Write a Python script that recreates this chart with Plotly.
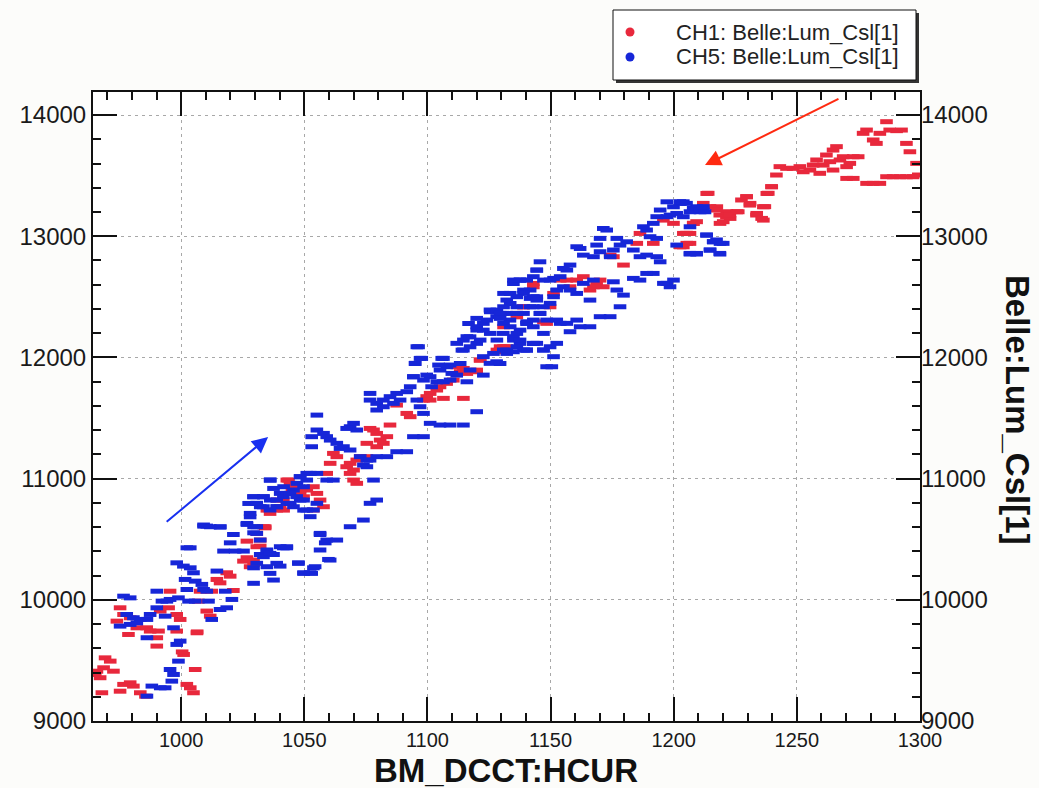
import plotly.graph_objects as go

# ---------------- data ----------------
ch1_x = [965.1, 967.1, 965.8, 968.5, 969.1, 971.2, 972.5, 967.8, 976.6, 979.3, 980.6, 975.2, 983.4, 985.5,
         1002.3, 1003.7, 1005.0, 1005.7, 1001.0, 973.9, 975.2, 976.6, 979.3, 982.0, 986.0, 987.4, 990.1, 990.8,
         978.6, 990.1, 995.5, 994.9, 991.5, 998.2, 999.6, 998.2, 1006.4, 1014.5, 1015.8, 1018.5, 1019.9, 1021.2,
         1012.4, 1010.4, 1011.8, 1007.0, 1007.7, 1025.3, 1026.7, 1029.4, 1032.1, 1034.1, 1026.7, 1000.4, 1006.5,
         1043.6, 1045.0, 1038.9, 1034.8, 1041.6, 1034.1, 1049.7,
         1128.8, 1132.2, 1121.4, 1111.9, 1113.3, 1116.0, 1120.0, 1110.5, 1107.8, 1105.1, 1103.8, 1101.1, 1099.7,
         1101.1, 1098.4, 1106.5, 1114.6, 1091.6, 1093.0, 1087.5, 1084.8, 1076.7, 1078.1, 1079.4, 1080.8, 1083.5,
         1082.1, 1075.4, 1079.4, 1075.4, 1072.7, 1071.3, 1068.6, 1067.2, 1070.0, 1068.6, 1070.0, 1071.3, 1061.8,
         1060.5, 1063.2, 1059.1, 1042.9, 1044.2, 1045.6, 1048.3, 1051.0, 1053.7, 1055.1, 1056.4, 1057.8, 1053.7,
         1048.3, 1041.5, 1040.2, 1038.8, 1036.1, 1033.4, 1030.7, 1032.1, 1030.7, 1029.4, 1028.0,
         1114.6, 1120.0, 1121.4, 1128.2, 1129.5, 1130.9, 1136.3, 1139.0, 1143.0,
         1213.4, 1217.5, 1221.5, 1225.6, 1222.9, 1218.8, 1229.6, 1231.0, 1237.8, 1239.8, 1236.4, 1233.7, 1236.4,
         1195.8, 1199.9, 1208.0, 1203.9, 1206.6, 1205.3, 1202.6, 1191.7, 1186.3, 1185.0, 1179.6, 1175.5, 1174.2,
         1170.1, 1168.7, 1167.4, 1166.0, 1171.4, 1163.3, 1160.6, 1157.9, 1156.6, 1153.9, 1151.2, 1149.8, 1148.4,
         1147.1, 1143.0, 1139.0, 1136.3, 1129.5, 1130.9,
         1214.0, 1212.0, 1214.7, 1217.4, 1218.7, 1221.4, 1222.8, 1226.2, 1220.1, 1227.5, 1229.6, 1230.9, 1233.6,
         1235.7, 1237.0, 1238.4, 1239.7, 1241.7, 1243.1, 1245.8, 1248.5, 1251.2, 1252.6, 1255.3, 1256.6, 1258.0,
         1259.3, 1260.7, 1262.0, 1263.4, 1264.7, 1266.1, 1264.7, 1267.5, 1268.8, 1270.2, 1271.5, 1272.9, 1274.9,
         1270.2, 1272.9, 1278.3, 1281.0, 1283.7, 1286.4, 1289.1, 1291.8, 1294.5, 1297.2, 1299.3, 1298.6, 1295.9,
         1294.5, 1292.5, 1290.5, 1287.7, 1286.4, 1283.7, 1281.0, 1282.3, 1278.3, 1276.9, 1205.2, 1206.6, 1207.9,
         1209.3, 1203.9]
ch1_y = [9384, 9357, 9411, 9439, 9521, 9494, 9411, 9233, 9302, 9315, 9288, 9246, 9233, 9205,
         9302, 9274, 9233, 9425, 9549, 9824, 9934, 9879, 9852, 9769, 9769, 9742, 9687, 9742,
         9714, 9618, 10071, 9934, 9907, 9879, 9838, 9742, 9728, 10168, 10140, 10223, 10195, 10077,
         10071, 9907, 9865, 9989, 10071, 10319, 10347, 10292, 10443, 10594, 10484, 9570, 9735,
         10988, 10906, 10823, 10740, 10740, 10603, 10850,
         12047, 12088, 11978, 11923, 11882, 11868, 11882, 11813, 11786, 11758, 11731, 11703, 11676,
         11648, 11648, 11662, 11662, 11538, 11511, 11607, 11442, 11414, 11401, 11373, 11318, 11346,
         11291, 11291, 11263, 11181, 11181, 11153, 11126, 11098, 11071, 11043, 10988, 10961, 11208,
         11126, 11181, 11043, 10988, 10961, 10933, 10906, 10906, 10933, 10878, 10823, 10768, 10741,
         10878, 10823, 10768, 10741, 10713, 10603, 10548, 10493, 10438, 10328, 10273,
         11909, 11895, 11978, 12060, 12088, 12253, 12335, 12418, 12610,
         13353, 13243, 13202, 13202, 13147, 13106, 13326, 13271, 13353, 13408, 13243, 13188, 13133,
         13133, 13106, 13106, 13023, 13023, 12941, 12913, 12941, 13023, 12941, 12762, 12831, 12844,
         12638, 12611, 12583, 12556, 12583, 12666, 12638, 12583, 12638, 12638, 12528, 12418, 12281,
         12294, 12583, 12418, 12363, 12061, 12088,
         13354, 13271, 13244, 13216, 13175, 13161, 13175, 13202, 13120, 13299, 13326, 13257, 13175,
         13147, 13244, 13354, 13409, 13505, 13574, 13560, 13560, 13574, 13532, 13546, 13587, 13629,
         13519, 13587, 13670, 13615, 13711, 13739, 13546, 13629, 13656, 13574, 13601, 13656, 13656,
         13477, 13477, 13436, 13436, 13436, 13491, 13491, 13491, 13491, 13491, 13505, 13601, 13697,
         13766, 13876, 13871, 13876, 13945, 13849, 13794, 13766, 13876, 13849, 13024, 12941, 13106,
         13120, 12913]

ch5_x = [976.6, 979.3, 977.9, 980.6, 983.4, 986.1, 987.4, 990.1, 992.2, 994.2, 995.5, 998.9, 975.2, 979.3,
         982.0, 986.1, 990.1, 993.5, 996.9, 998.2, 999.6, 998.9, 995.5, 996.9, 996.2, 993.5, 991.5, 988.1,
         986.1, 1002.3, 1003.7, 998.2, 1000.9, 1003.7, 1005.0, 1001.6, 1002.3, 1005.7, 1008.4, 1009.1, 1010.4,
         1003.0, 1005.7, 1011.1, 1012.4, 1014.5, 1017.9, 1015.8, 1018.5, 1020.6, 1009.1, 1010.4, 1015.8, 1026.7,
         1029.4, 1021.2, 1019.9, 1017.2, 1021.9, 1025.3, 1029.4, 1032.1, 1034.8, 1037.5, 1040.2, 1041.5, 1042.9,
         1047.6, 1049.7, 1052.4, 1053.7, 1056.4, 1058.5, 1059.8,
         1036.2, 1037.5, 1033.4, 1029.4, 1027.4, 1032.1, 1036.2, 1040.2, 1041.6, 1042.9, 1045.6, 1047.0, 1048.3,
         1051.0, 1049.7, 1048.3, 1044.3, 1038.9, 1049.7, 1028.0, 1009.1, 1011.8, 1015.9, 1026.7, 1030.7,
         1125.4, 1128.1, 1130.8, 1133.5, 1136.3, 1139.0, 1143.0, 1145.7, 1140.3, 1122.7, 1120.0, 1116.0, 1111.9,
         1114.6, 1120.0, 1130.8, 1134.9, 1137.6, 1140.3, 1144.4, 1147.1, 1130.8, 1128.1, 1125.4, 1122.7, 1132.2,
         1147.1, 1148.4,
         1095.7, 1097.0, 1095.0, 1106.5, 1109.2, 1105.1, 1101.1, 1098.4, 1094.3, 1093.0, 1091.6, 1087.5, 1084.8,
         1082.1, 1079.4, 1076.7, 1076.7, 1079.4, 1082.1, 1086.2, 1088.9, 1095.7, 1097.0, 1098.4, 1101.1, 1105.1,
         1109.2, 1114.6, 1120.0, 1094.3, 1098.4, 1101.7, 1103.8, 1106.5, 1109.2, 1111.9, 1117.3, 1122.7, 1116.0,
         1055.1, 1055.1, 1057.8, 1059.1, 1060.5, 1063.2, 1065.9, 1068.6, 1070.0, 1071.3, 1067.2, 1053.0, 1053.0,
         1064.5, 1068.6, 1072.7, 1075.4, 1079.4, 1083.5, 1087.5, 1091.6, 1074.0, 1075.4, 1076.7,
         1055.1, 1052.4, 1051.0, 1048.3, 1059.1, 1061.8, 1036.1, 1078.1, 1076.7, 1079.4, 1074.0, 1068.6, 1056.4,
         1059.1, 1063.2, 1056.4, 1060.5, 1054.4, 1053.0, 1049.7, 1047.6, 1029.4, 1033.4, 1038.8, 1041.5, 1044.2,
         1046.9, 1049.7, 1053.7, 1052.4, 1045.6, 1042.9, 1038.8, 1036.1, 1033.4, 1030.7, 1028.0, 1029.4, 1030.7,
         1032.1, 1034.8, 1033.4, 1036.1, 1040.2, 1042.9, 1038.8, 1034.8, 1030.7, 1036.1, 1037.5, 1029.4, 1051.0,
         1055.1,
         1096.4, 1097.7, 1095.0, 1094.3, 1099.7, 1105.8, 1104.5, 1107.9, 1109.9, 1113.3, 1114.0, 1114.6, 1117.3,
         1120.0, 1120.0, 1124.1, 1125.5, 1128.2, 1129.5, 1132.2, 1133.6, 1130.9, 1134.9, 1137.6, 1139.0, 1141.7,
         1144.4, 1144.4, 1143.0, 1140.3, 1137.6, 1134.9, 1136.3, 1140.3, 1143.0, 1132.2, 1128.2, 1125.5, 1122.7,
         1121.4, 1117.3, 1126.8, 1129.5, 1116.7,
         1197.2, 1199.9, 1202.6, 1203.9, 1209.3, 1210.7, 1206.6, 1212.0, 1194.5, 1193.1, 1191.7, 1189.0, 1187.7,
         1190.4, 1193.1, 1197.2, 1198.5, 1201.2, 1213.4, 1216.1, 1218.8, 1214.8, 1218.8, 1206.6, 1209.3, 1201.2,
         1199.9, 1197.2, 1198.5, 1195.8,
         1171.4, 1172.8, 1170.1, 1168.7, 1176.9, 1180.9, 1183.6, 1186.3, 1189.0, 1193.1, 1194.5, 1191.7, 1189.0,
         1183.6, 1186.3, 1178.2, 1175.5, 1174.2, 1170.1, 1167.4, 1163.3, 1162.0, 1160.6, 1157.9, 1156.6, 1155.2,
         1153.9, 1151.2, 1149.8, 1147.1, 1145.7, 1144.4, 1143.0, 1140.3, 1137.6, 1134.9, 1133.6, 1132.2, 1130.9,
         1129.5, 1130.9, 1133.6, 1136.3, 1137.6, 1139.0, 1134.9, 1143.0, 1147.1, 1149.8, 1151.2, 1152.5, 1150.5,
         1153.9, 1156.6, 1157.9, 1160.6, 1162.0, 1166.0, 1166.0, 1170.1, 1174.2, 1178.2, 1179.6, 1176.9, 1175.5,
         1167.4, 1163.3, 1160.6, 1157.9, 1155.2, 1152.5, 1151.2, 1149.8, 1147.1, 1143.0, 1141.7, 1139.0, 1136.3,
         1136.3, 1140.3, 1143.0, 1145.7, 1148.4, 1152.5, 1141.7, 1144.4,
         1202.5, 1205.2, 1207.9, 1210.6, 1212.0, 1212.7, 1213.3, 1216.0, 1217.4, 1220.1, 1214.7, 1218.7, 1206.6,
         1209.3, 1203.9, 1206.6]
ch5_y = [10030, 10016, 9879, 9852, 9838, 9838, 9879, 9934, 9989, 9989, 10003, 10016, 9783, 9797,
         9810, 9687, 10071, 9865, 9769, 9632, 9659, 9494, 9425, 9384, 9329, 9274, 9274, 9288,
         9205, 10429, 10429, 10305, 10278, 10264, 10223, 10168, 10085, 10154, 10127, 10085, 10071,
         9989, 9989, 9989, 9838, 10237, 10071, 9920, 9934, 10003, 10608, 10608, 10600, 10622,
         10553, 10539, 10470, 10402, 10402, 10402, 10264, 10374, 10402, 10374, 10278, 10429, 10429,
         10305, 10223, 10223, 10264, 10539, 10470, 10333,
         10988, 10919, 10850, 10850, 10795, 10768, 10823, 10878, 10933, 10878, 10906, 10961, 11015,
         11043, 10933, 10823, 10795, 10768, 10740, 10685, 10617, 10603, 10603, 10630, 10603,
         12391, 12336, 12363, 12308, 12418, 12363, 12253, 12363, 12281, 12281, 12226, 12171, 12116,
         12061, 12116, 12198, 12171, 12116, 12061, 12116, 12198, 12061, 11964, 11951, 12006, 12033,
         12061, 11923,
         12088, 11992, 11951, 11992, 11937, 11896, 11841, 11813, 11841, 11758, 11717, 11703, 11676,
         11648, 11621, 11703, 11648, 11566, 11593, 11621, 11648, 11648, 11593, 11538, 11456, 11442,
         11442, 11442, 11552, 11346, 11346, 11758, 11799, 11799, 11813, 11854, 11896, 11854, 11799,
         11524, 11401, 11373, 11346, 11318, 11291, 11263, 11428, 11456, 11401, 11414, 11346, 11263,
         11249, 11236, 11181, 11153, 11181, 11181, 11222, 11222, 11112, 11098, 11153,
         11043, 11043, 10988, 11016, 10988, 10988, 10988, 10988, 10796, 10823, 10658, 10603, 10548,
         10493, 10493, 10411, 10328, 10273, 10218, 10218, 10301, 10851, 10851, 10823, 10851, 10878,
         10851, 10823, 10741, 10686, 10768, 10796, 10768, 10741, 10768, 10796, 10713, 10603, 10548,
         10493, 10411, 10356, 10383, 10438, 10438, 10301, 10273, 10301, 10218, 10163, 10136, 10741,
         10796,
         12088, 11992, 11950, 11840, 11854, 11992, 11937, 11923, 11868, 11950, 12060, 12143, 12170,
         12253, 12322, 12308, 12377, 12390, 12322, 12363, 12445, 12528, 12610, 12638, 12555, 12487,
         12500, 12720, 12418, 12294, 12225, 12143, 12088, 12060, 12115, 12060, 12143, 12198, 12225,
         12143, 12088, 12033, 11950, 12280,
         13284, 13243, 13271, 13284, 13243, 13202, 13202, 13216, 13216, 13161, 13106, 13051, 13078,
         12996, 12982, 13161, 13174, 13188, 13009, 12954, 12941, 12886, 12853, 12853, 12853, 12927,
         12638, 12611, 12583, 12611,
         13064, 13051, 12982, 12927, 12982, 12954, 12886, 12831, 12844, 12831, 12789, 12693, 12693,
         12652, 12638, 12927, 12886, 12831, 12872, 12831, 12844, 12899, 12913, 12762, 12721, 12734,
         12666, 12652, 12638, 12638, 12789, 12721, 12666, 12638, 12638, 12638, 12528, 12473, 12418,
         12363, 12281, 12253, 12198, 12143, 12061, 12047, 12116, 12061, 12088, 12006, 12116, 11923,
         12281, 12281, 12212, 12308, 12253, 12253, 12473, 12336, 12336, 12418, 12514, 12556, 12624,
         12638, 12611, 12528, 12556, 12583, 12556, 12501, 12446, 12418, 12501, 12556, 12528, 12501,
         12363, 12281, 12308, 12363, 12308, 12308, 12418, 12473,
         13285, 13271, 13230, 13216, 13244, 13202, 13010, 12955, 12969, 12941, 12886, 12858, 12858,
         12858, 13161, 13078]

series_names = ["CH1: Belle:Lum_Csl[1]", "CH5: Belle:Lum_Csl[1]"]
series_colors = ["#e8283c", "#1626d8"]

x_title = "BM_DCCT:HCUR"
y_title = "Belle:Lum_Csl[1]"
x_range = [964.2, 1300]
y_range = [9000, 14190]

# hand-drawn arrows on the picture: (head_x, head_y, tail_x, tail_y, colour)
arrows = [
    (1035.3, 11343, 993.5, 10633, "#1830f0"),
    (1212.7, 13587, 1267.5, 14140, "#ff2a10"),
]

# ---------------- layout helpers (pixel geometry) ----------------
W, H = 1039, 788
ML, MR, MT, MB = 93, 119, 92, 67
PW, PH = W - ML - MR, H - MT - MB


def px(x):
    return (x - ML) / PW


def py(y):
    return (H - MB - y) / PH


# ---------------- figure ----------------
fig = go.Figure()

for xs, ys, col, name in [(ch1_x, ch1_y, series_colors[0], series_names[0]),
                          (ch5_x, ch5_y, series_colors[1], series_names[1])]:
    fig.add_trace(go.Scatter(
        x=xs, y=ys, mode="markers", name=name, showlegend=False, hoverinfo="skip",
        marker=dict(symbol="line-ew", size=9, color=col,
                    line=dict(color=col, width=5)),
    ))

# invisible traces so the extra (right-hand / minor-tick) axes are drawn
fig.add_trace(go.Scatter(x=[x_range[0]], y=[y_range[0]], yaxis="y2", mode="markers",
                         marker=dict(opacity=0), showlegend=False, hoverinfo="skip"))
fig.add_trace(go.Scatter(x=[x_range[0]], y=[y_range[0]], xaxis="x2", yaxis="y3", mode="markers",
                         marker=dict(opacity=0), showlegend=False, hoverinfo="skip"))

grid_style = dict(showgrid=True, gridcolor="#a8a8a8", gridwidth=1, griddash="3px,4px")
major = dict(ticks="inside", ticklen=24, tickwidth=2, tickcolor="#111", zeroline=False)
minor_t = dict(ticks="inside", ticklen=8, tickwidth=2, tickcolor="#111", zeroline=False,
               showgrid=False, showticklabels=False, showline=False, mirror="ticks")

fig.update_layout(
    width=W, height=H,
    margin=dict(l=ML, r=MR, t=MT, b=MB),
    paper_bgcolor="#fcfcfa",
    plot_bgcolor="#ffffff",
    font=dict(family="Liberation Sans, Arial, sans-serif", color="#1a1a1a"),
    showlegend=False,
    xaxis=dict(
        range=x_range, tick0=1000, dtick=50, tickformat="d",
        showline=True, linecolor="#111", linewidth=2, mirror="ticks",
        tickfont=dict(size=20),
        **major, **grid_style,
    ),
    xaxis2=dict(range=x_range, overlaying="x", side="bottom", anchor="y3",
                tick0=1000, dtick=10, **minor_t),
    yaxis=dict(
        range=y_range, tick0=9000, dtick=1000, tickformat="d",
        showline=True, linecolor="#111", linewidth=2, mirror="ticks",
        tickfont=dict(size=24),
        **major, **grid_style,
    ),
    yaxis2=dict(
        range=y_range, overlaying="y", side="right", anchor="x",
        tick0=9000, dtick=1000, tickformat="d",
        showgrid=False, showline=False,
        tickfont=dict(size=24),
        **major,
    ),
    yaxis3=dict(range=y_range, overlaying="y", side="left", anchor="x2",
                tick0=9000, dtick=200, **minor_t),
)

# ---- legend box drawn by hand (box, shadow, round markers, labels) ----
lg_x0, lg_x1, lg_y0, lg_y1 = 613, 916, 10, 80
shapes = [
    dict(type="rect", xref="paper", yref="paper", layer="above",
         x0=px(lg_x0 + 3), x1=px(lg_x1 + 3), y0=py(lg_y1 + 3), y1=py(lg_y0 + 3),
         fillcolor="#333333", line=dict(width=0)),
    dict(type="rect", xref="paper", yref="paper", layer="above",
         x0=px(lg_x0), x1=px(lg_x1), y0=py(lg_y1), y1=py(lg_y0),
         fillcolor="#ffffff", line=dict(color="#111", width=1)),
]
row_y = [32, 57]
annotations = []
for ry, col, name in zip(row_y, series_colors, series_names):
    shapes.append(dict(type="circle", xref="paper", yref="paper", layer="above",
                       x0=px(625.5), x1=px(634.5), y0=py(ry + 4.5), y1=py(ry - 4.5),
                       fillcolor=col, line=dict(width=0)))
    annotations.append(dict(text=name, x=px(674), y=py(ry), xref="paper", yref="paper",
                            showarrow=False, xanchor="left", yanchor="middle",
                            font=dict(size=22, color="#222")))

annotations += [
    dict(text="<b>" + x_title + "</b>", x=px(506), y=py(770), xref="paper", yref="paper",
         showarrow=False, font=dict(size=33, color="#111"),
         xanchor="center", yanchor="middle"),
    dict(text="<b>" + y_title + "</b>", x=px(1018), y=py(410), xref="paper", yref="paper",
         showarrow=False, textangle=90, font=dict(size=33, color="#111"),
         xanchor="center", yanchor="middle"),
]
for hx, hy, tx, ty, col in arrows:
    annotations.append(dict(x=hx, y=hy, ax=tx, ay=ty, xref="x", yref="y", axref="x", ayref="y",
                            text="", showarrow=True, arrowhead=2, arrowsize=1.6, arrowwidth=2,
                            arrowcolor=col))
fig.update_layout(shapes=shapes, annotations=annotations)

fig.write_html("out.html")
